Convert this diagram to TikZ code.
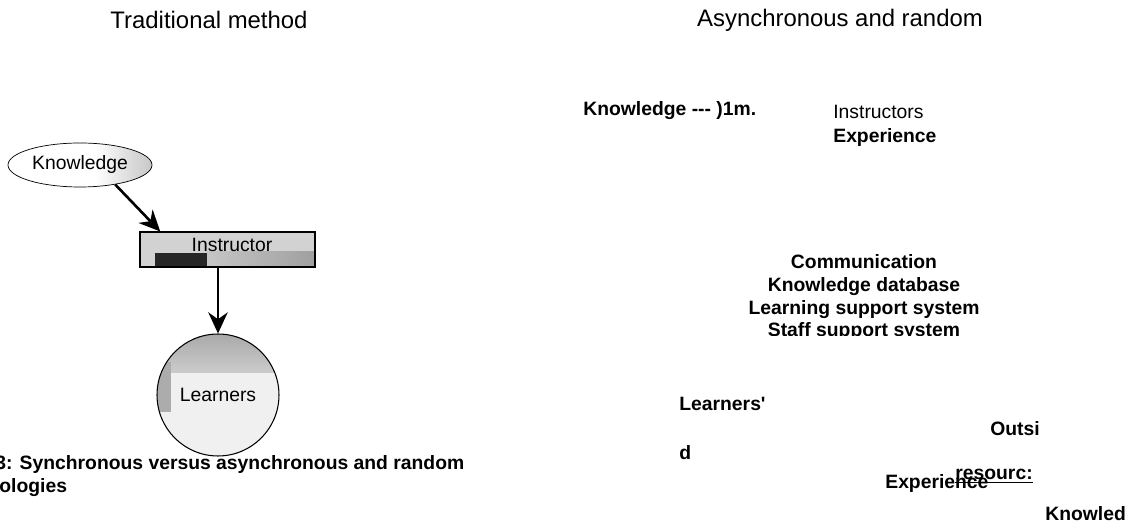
\documentclass[tikz,border=0pt]{standalone}
\usepackage{fontspec}
\setmainfont{Liberation Sans}
\usetikzlibrary{arrows.meta,shapes.geometric}
\begin{document}
\begin{tikzpicture}[x=0.02cm,y=-0.02cm,
      lbl/.style={font=\fontsize{11}{13}\selectfont\bfseries,inner sep=0pt,anchor=west},
      plain/.style={font=\fontsize{11}{13}\selectfont,inner sep=0pt},
      ttl/.style={font=\fontsize{13.6}{16}\selectfont,inner sep=0pt},
      arr/.style={line width=1.5pt,-{Stealth[length=12pt,width=11pt]}},
    ]
    \clip (0,0) rectangle (1129,526);
    \node[ttl] (trad) at (209,20) {Traditional method};
    \node[ttl] (async) at (840,20) {Asynchronous and random};

    % traditional method
    \begin{scope}
      \clip (80,165) ellipse [x radius=72, y radius=22];
      \shade[left color=white,right color=gray!45] (95,140) rectangle (153,190);
    \end{scope}
    \node[plain,ellipse,draw,thin,minimum width=2.88cm,minimum height=0.88cm] (know) at (80,165) {Knowledge};

    \fill[gray!35] (140,232) rectangle (315,267);
    \shade[left color=gray!45,right color=gray!75] (207,252) rectangle (315,267);
    \fill[black!85] (155,253) rectangle (207,267);
    \node[plain,rectangle,draw,semithick,minimum width=3.5cm,minimum height=0.7cm] (instr) at (227.5,249.5) {};
    \node[plain] (instrtxt) at (232,245) {Instructor};

    \begin{scope}
      \clip (218,395) circle [radius=61];
      \fill[gray!12] (150,330) rectangle (290,460);
      \shade[top color=gray!70,bottom color=gray!40] (150,330) rectangle (290,373);
      \fill[gray!65] (150,362) rectangle (171,412);
    \end{scope}
    \node[plain,circle,draw,semithick,minimum size=2.44cm] (lrn) at (218,395) {Learners};

    \draw[arr] (know.-29) -- (instr.165);
    \draw[arr] (instr.south -| lrn.north) -- (lrn.north);

    \node[lbl] (cap1) at (-5,465) {3: Synchronous versus asynchronous and random};
    \node[lbl] (cap2) at (-1,488) {ologies};

    % asynchronous and random
    \node[lbl] (kn2) at (583,111) {Knowledge {-}{-}{-} )1m.};
    \node[plain,anchor=west] (instrs) at (833,112) {Instructors};
    \node[lbl] (exp1) at (833,138) {Experience};
    \begin{scope}
      \clip (700,240) rectangle (1030,336);
      \node[lbl,anchor=north,align=center] (tools) at (864,254)
        {Communication\\Knowledge database\\Learning support system\\Staff support system};
    \end{scope}
    \node[lbl] (lrn2) at (679,404) {Learners\textquotesingle};
    \node[lbl] (outsi) at (990,429) {Outsi};
    \node[lbl] (dd) at (679,453) {d};
    \node[lbl] (res) at (955,476) {\underline{resourc:}};
    \node[lbl] (exp2) at (885,484) {Experience};
    \node[lbl] (kn3) at (1045,514) {Knowled};
\end{tikzpicture}
\end{document}
